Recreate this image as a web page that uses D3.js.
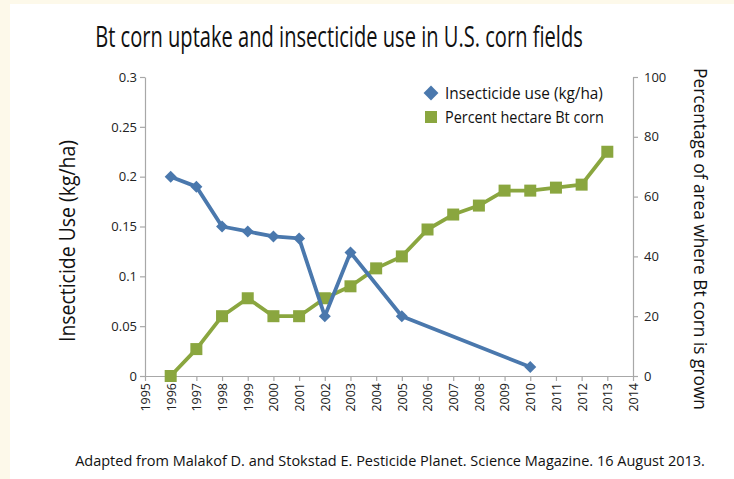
<!DOCTYPE html>
<html><head><meta charset="utf-8">
<script src="https://cdn.jsdelivr.net/npm/d3@7"></script>
<style>body{margin:0;background:#fdf9ea;}svg{display:block;}</style>
</head><body>
<svg id="c" width="734" height="479"></svg>
<script>
const yearTicks = d3.range(1995, 2015);
const insectYears = [1996,1997,1998,1999,2000,2001,2002,2003,2005,2010];
const insectValues = [0.2,0.19,0.15,0.145,0.14,0.138,0.06,0.124,0.06,0.009];
const btYears = [1996,1997,1998,1999,2000,2001,2002,2003,2004,2005,2006,2007,2008,2009,2010,2011,2012,2013];
const btValues = [0,9,20,26,20,20,26,30,36,40,49,54,57,62,62,63,64,75];
const leftTicks = [0,0.05,0.1,0.15,0.2,0.25,0.3];
const leftTickLabels = ["0","0.05","0.1","0.15","0.2","0.25","0.3"];
const rightTicks = [0,20,40,60,80,100];

const svg = d3.select("#c");
const font = "'Open Sans', 'DejaVu Sans', sans-serif";
svg.append("rect").attr("x",10).attr("y",4).attr("width",724).attr("height",475).attr("fill","#fff");

const x = d3.scaleLinear().domain([1995,2014]).range([145,633]);
const yL = d3.scaleLinear().domain([0,0.3]).range([376,77]);
const yR = d3.scaleLinear().domain([0,100]).range([376,77]);

const axisColor = "#a8a8a8";
function styleAxis(g){
  g.selectAll("path,line").attr("stroke",axisColor).attr("stroke-width",1.2);
  g.selectAll("text").attr("fill","#222").style("font-family",font);
}
const gl = svg.append("g").attr("transform","translate(145,0)")
  .call(d3.axisLeft(yL).tickValues(leftTicks).tickFormat((d,i)=>leftTickLabels[i]).tickSize(5).tickSizeOuter(0).tickPadding(3));
styleAxis(gl); gl.selectAll("text").style("font-size","13px");
const gr = svg.append("g").attr("transform","translate(633,0)")
  .call(d3.axisRight(yR).tickValues(rightTicks).tickSize(5).tickSizeOuter(0).tickPadding(6));
styleAxis(gr); gr.selectAll("text").style("font-size","13px");
const gx = svg.append("g").attr("transform","translate(0,376)")
  .call(d3.axisBottom(x).tickValues(yearTicks).tickFormat(d3.format("d")).tickSize(5).tickSizeOuter(0));
styleAxis(gx);
gx.selectAll("text").style("font-size","12.5px").attr("transform","rotate(-90)")
  .attr("text-anchor","end").attr("x",-7).attr("y",0).attr("dy","0.35em");

const blue = "#4a78ad", green = "#8aa63f";
const lineL = d3.line().x((d,i)=>x(insectYears[i])).y(d=>yL(d));
const lineR = d3.line().x((d,i)=>x(btYears[i])).y(d=>yR(d));

svg.append("path").datum(btValues).attr("d",lineR).attr("fill","none")
  .attr("stroke",green).attr("stroke-width",3.8).attr("stroke-linejoin","round");
svg.selectAll(".sq").data(btValues).enter().append("rect")
  .attr("x",(d,i)=>x(btYears[i])-6).attr("y",d=>yR(d)-6).attr("width",12).attr("height",12).attr("fill",green);

svg.append("path").datum(insectValues).attr("d",lineL).attr("fill","none")
  .attr("stroke",blue).attr("stroke-width",3.8).attr("stroke-linejoin","round");
svg.selectAll(".dm").data(insectValues).enter().append("path")
  .attr("d", d3.symbol().type(d3.symbolSquare).size(72))
  .attr("transform",(d,i)=>`translate(${x(insectYears[i])},${yL(d)}) rotate(45)`).attr("fill",blue);

// legend
svg.append("path").attr("d", d3.symbol().type(d3.symbolSquare).size(110))
  .attr("transform","translate(431,93) rotate(45)").attr("fill",blue);
svg.append("rect").attr("x",425).attr("y",111).attr("width",12).attr("height",12).attr("fill",green);

// text fitted to a target width by horizontal scaling (condensed look)
function fitText(str, size, cx, cy, rot, anchor, targetW){
  const g = svg.append("g");
  const t = g.append("text").text(str).style("font-family",font).style("font-size",size+"px")
    .attr("fill","#111").attr("text-anchor",anchor);
  const w = t.node().getComputedTextLength();
  const s = Math.min(1, targetW / w);
  g.attr("transform",`translate(${cx},${cy}) rotate(${rot}) scale(${s},1)`);
  return g;
}
fitText("Insecticide use (kg/ha)", 16, 445, 99, 0, "start", 158);
fitText("Percent hectare Bt corn", 16, 445, 123, 0, "start", 159);
fitText("Bt corn uptake and insecticide use in U.S. corn fields", 29, 339, 47, 0, "middle", 488);
fitText("Insecticide Use (kg/ha)", 21, 75, 241, -90, "middle", 202);
fitText("Percentage of area where Bt corn is grown", 19, 694, 239, 90, "middle", 342);
fitText("Adapted from Malakof D. and Stokstad E. Pesticide Planet. Science Magazine. 16 August 2013.", 14.5, 390, 466, 0, "middle", 632);
</script>
</body></html>
